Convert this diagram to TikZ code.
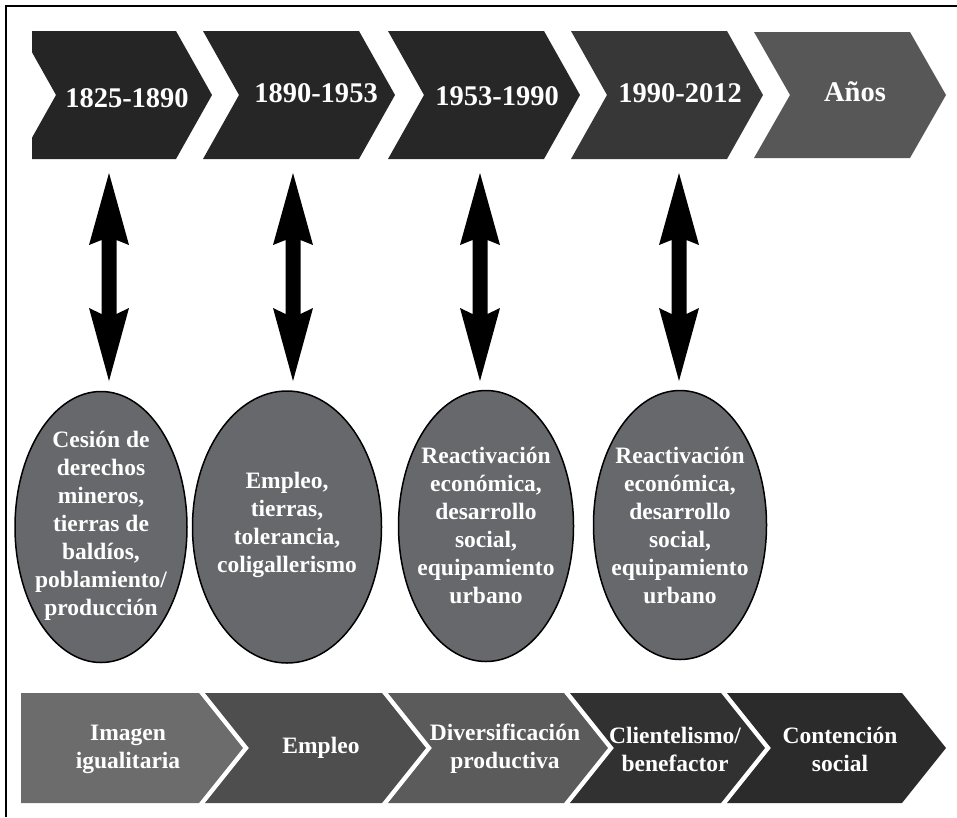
\documentclass[tikz,border=0pt]{standalone}
\usepackage{fontspec}
\setmainfont{Liberation Serif}
\usetikzlibrary{shapes.geometric}
\definecolor{topA}{HTML}{252525}
\definecolor{topB}{HTML}{262626}
\definecolor{topC}{HTML}{272727}
\definecolor{topD}{HTML}{373737}
\definecolor{topE}{HTML}{575757}
\definecolor{botA}{HTML}{6c6c6c}
\definecolor{botB}{HTML}{4e4e4e}
\definecolor{botC}{HTML}{5b5b5b}
\definecolor{botD}{HTML}{313131}
\definecolor{botE}{HTML}{2b2b2b}
\definecolor{ellgray}{HTML}{67686c}
\begin{document}
\begin{tikzpicture}[x=1pt,y=-1pt,
  yeartxt/.style={text=white,font=\bfseries\fontsize{28.5}{34}\selectfont,anchor=base,inner sep=0pt},
  ellbox/.style={ellipse,draw=black,line width=1.5pt,fill=ellgray,inner sep=0pt},
  elltxt/.style={text=white,align=center,inner sep=0pt,font=\bfseries\fontsize{23.5}{28}\selectfont},
  bottxt/.style={text=white,align=center,inner sep=0pt,font=\bfseries\fontsize{23.5}{28}\selectfont},
  dblarrow/.pic={\fill[black] (0,0) -- (20,72) -- (7.5,67) -- (7.5,141) -- (20,135) -- (0,208) -- (-20,135) -- (-7.5,141) -- (-7.5,67) -- (-20,72) -- cycle;}
]
\useasboundingbox (0,0) rectangle (957,817);
% frame
\draw[line width=2pt] (6,817) -- (6,6) -- (957,6);

% top chevrons
\fill[topA] (32,31) -- (176,31) -- (212,95) -- (176,159) -- (32,159) -- (32,137.7) -- (56,95) -- (32,52.3) -- cycle;
\fill[topB] (203,31) -- (359,31) -- (395,95) -- (359,159) -- (203,159) -- (239,95) -- cycle;
\fill[topC] (388,31) -- (544,31) -- (580,95) -- (544,159) -- (388,159) -- (424,95) -- cycle;
\fill[topD] (571,31) -- (727,31) -- (763,95) -- (727,159) -- (571,159) -- (607,95) -- cycle;
\fill[topE] (754,32) -- (910,32) -- (946,95) -- (910,158) -- (754,158) -- (790,95) -- cycle;

\node[yeartxt] (y1) at (127,107) {1825-1890};
\node[yeartxt] (y2) at (316,102) {1890-1953};
\node[yeartxt] (y3) at (497,105) {1953-1990};
\node[yeartxt] (y4) at (680,102) {1990-2012};
\node[yeartxt] (y5) at (855,101) {Años};

% double arrows
\coordinate (a1) at (109,173);
\coordinate (a2) at (293,173);
\coordinate (a3) at (480,173);
\coordinate (a4) at (679,173);
\pic at (a1) {dblarrow};
\pic at (a2) {dblarrow};
\pic at (a3) {dblarrow};
\pic at (a4) {dblarrow};

% ellipses
\node[ellbox,minimum width=172pt,minimum height=271pt] (e1) at (101,527) {};
\node[ellbox,minimum width=189pt,minimum height=272pt] (e2) at (287,527) {};
\node[ellbox,minimum width=175pt,minimum height=271pt] (e3) at (486,526) {};
\node[ellbox,minimum width=173pt,minimum height=269pt] (e4) at (680,525) {};

\node[elltxt] (t1) at (101,526) {Cesión de\\derechos\\mineros,\\tierras de\\baldíos,\\poblamiento/\\producción};
\node[elltxt] (t2) at (287,525) {Empleo,\\tierras,\\tolerancia,\\coligallerismo};
\node[elltxt] (t3) at (486,525) {Reactivación\\económica,\\desarrollo\\social,\\equipamiento\\urbano};
\node[elltxt] (t4) at (680,525) {Reactivación\\económica,\\desarrollo\\social,\\equipamiento\\urbano};

% bottom chevrons
\fill[botA] (21,693) -- (199,693) -- (243,748) -- (199,803) -- (21,803) -- cycle;
\fill[botB] (205,693) -- (382,693) -- (426,748) -- (382,803) -- (205,803) -- (249,748) -- cycle;
\fill[botC] (388,693) -- (564,693) -- (608,748) -- (564,803) -- (388,803) -- (432,748) -- cycle;
\fill[botD] (570,693) -- (721,693) -- (765,748) -- (721,803) -- (570,803) -- (614,748) -- cycle;
\fill[botE] (727,693) -- (902,693) -- (946,748) -- (902,803) -- (727,803) -- (771,748) -- cycle;

\node[bottxt] (b1) at (128,749) {Imagen\\igualitaria};
\node[bottxt] (b2) at (321,748) {Empleo};
\node[bottxt] (b3) at (505,749) {Diversificación\\productiva};
\node[bottxt] (b4) at (675,749) {Clientelismo/\\benefactor};
\node[bottxt] (b5) at (840,749) {Contención\\social};
\end{tikzpicture}
\end{document}
